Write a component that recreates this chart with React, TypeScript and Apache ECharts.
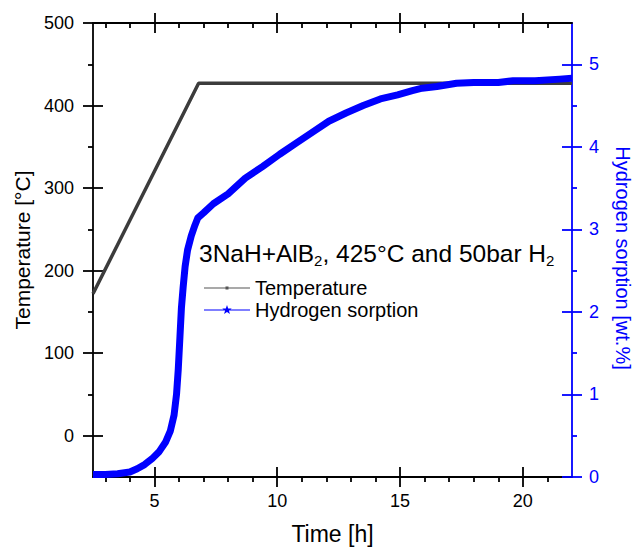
import React, { useEffect, useRef } from "react";
import * as echarts from "echarts";

// ---- data ----
const tempTime = [2.5, 6.8, 22];
const tempValue = [172, 427, 427];

const h2Time = [2.5, 3.0, 3.5, 4.0, 4.3, 4.6, 4.9, 5.2, 5.45, 5.65, 5.8, 5.9, 5.97, 6.04, 6.1, 6.17, 6.25, 6.35, 6.5, 6.65, 6.77, 7.0, 7.4, 8.0, 8.7, 9.4, 10.1, 10.8, 11.5, 12.1, 12.8, 13.5, 14.2, 14.9, 15.5, 15.9, 16.5, 17.3, 18.0, 19.0, 19.6, 20.5, 21.5, 22.0];
const h2Sorption = [0.03, 0.03, 0.04, 0.06, 0.1, 0.15, 0.22, 0.31, 0.42, 0.56, 0.75, 1.0, 1.3, 1.7, 2.05, 2.3, 2.55, 2.75, 2.92, 3.05, 3.14, 3.2, 3.31, 3.43, 3.62, 3.76, 3.91, 4.05, 4.19, 4.31, 4.41, 4.5, 4.58, 4.63, 4.68, 4.71, 4.73, 4.77, 4.78, 4.78, 4.8, 4.8, 4.82, 4.83];

const xMajor = [5, 10, 15, 20];
const xMinor = [3, 4, 6, 7, 8, 9, 11, 12, 13, 14, 16, 17, 18, 19, 21];
const yLeftMajor = [0, 100, 200, 300, 400, 500];
const yLeftMinor = [50, 150, 250, 350, 450];
const yRightMajor = [0, 1, 2, 3, 4, 5];
const yRightMinor = [0.5, 1.5, 2.5, 3.5, 4.5];

const FONT = '"Liberation Sans", Arial, Helvetica, sans-serif';
const BLUE = "#0000ff";
const BLACK = "#000000";

function makeAxis(base: any, ticks: number[], inside: boolean, len: number, color: string, showLine: boolean, label?: any) {
  return {
    type: "value",
    ...base,
    axisLine: { show: showLine, onZero: false, lineStyle: { color, width: 1.8 } },
    axisTick: { show: true, inside, length: len, customValues: ticks, lineStyle: { color, width: 1.8 } },
    axisLabel: label ? label : { show: false },
    splitLine: { show: false },
    minorTick: { show: false },
  };
}

const starIcon =
  "path://M0,0 M46,12 M0,5.4 L46,5.4 L46,6.6 L0,6.6 Z M23,1 L24.18,4.38 L27.76,4.45 L24.9,6.62 L25.94,10.05 L23,8 L20.06,10.05 L21.1,6.62 L18.24,4.45 L21.82,4.38 Z";
const dotIcon =
  "path://M0,0 M46,12 M0,5.4 L46,5.4 L46,6.6 L0,6.6 Z M21.5,4.5 L24.5,4.5 L24.5,7.5 L21.5,7.5 Z";

export default function App() {
  const ref = useRef<HTMLDivElement>(null);
  useEffect(() => {
    document.body.style.margin = "0";
    const chart = echarts.init(ref.current!, null, { renderer: "svg" });
    const xBase = { min: 2.5, max: 22 };
    const ylBase = { min: -50, max: 500 };
    const yrBase = { min: 0, max: 5.5 };
    const tickLabel = (customValues: number[], color: string, margin: number) => ({
      show: true,
      customValues,
      margin,
      color,
      fontSize: 18,
      fontFamily: FONT,
    });
    const option: any = {
      animation: false,
      backgroundColor: "#ffffff",
      grid: { left: 93, right: 63, top: 23, bottom: 70, containLabel: false, outerBoundsMode: "none" },
      xAxis: [
        {
          ...makeAxis({ ...xBase, position: "bottom" }, xMajor, false, 10, BLACK, true, tickLabel(xMajor, BLACK, 15)),
          name: "Time [h]",
          nameLocation: "middle",
          nameGap: 45,
          nameTextStyle: { fontSize: 23, fontFamily: FONT, color: BLACK },
        },
        makeAxis({ ...xBase, position: "bottom" }, xMajor, true, 10, BLACK, false),
        makeAxis({ ...xBase, position: "bottom" }, xMinor, false, 5, BLACK, false),
        makeAxis({ ...xBase, position: "top" }, xMajor, false, 10, BLACK, true),
        makeAxis({ ...xBase, position: "top" }, xMajor, true, 10, BLACK, false),
        makeAxis({ ...xBase, position: "top" }, xMinor, true, 5, BLACK, false),
      ],
      yAxis: [
        {
          ...makeAxis({ ...ylBase, position: "left" }, yLeftMajor, false, 10, BLACK, true, tickLabel(yLeftMajor, BLACK, 19)),
          name: "Temperature [°C]",
          nameLocation: "middle",
          nameGap: 59,
          nameTextStyle: { fontSize: 21, fontFamily: FONT, color: BLACK },
        },
        makeAxis({ ...ylBase, position: "left" }, yLeftMajor, true, 10, BLACK, false),
        makeAxis({ ...ylBase, position: "left" }, yLeftMinor, false, 5, BLACK, false),
        {
          ...makeAxis({ ...yrBase, position: "right" }, yRightMajor, false, 10, BLUE, true, tickLabel(yRightMajor, BLUE, 17)),
          name: "Hydrogen sorption [wt.%]",
          nameLocation: "middle",
          nameGap: 41,
          nameRotate: -90,
          nameTextStyle: { fontSize: 20, fontFamily: FONT, color: BLUE, padding: [0, 0, 0, 16] },
        },
        makeAxis({ ...yrBase, position: "right" }, yRightMajor, true, 10, BLUE, false),
        makeAxis({ ...yrBase, position: "right" }, yRightMinor, false, 5, BLUE, false),
      ],
      legend: {
        show: true,
        orient: "vertical",
        left: 199,
        top: 273,
        itemWidth: 46,
        itemHeight: 12,
        itemGap: 2,
        textStyle: { fontSize: 20, fontFamily: FONT, color: BLACK },
        data: [
          { name: "Temperature", icon: dotIcon, itemStyle: { color: "#555555", borderWidth: 0 } },
          { name: "Hydrogen sorption", icon: starIcon, itemStyle: { color: BLUE, borderWidth: 0 } },
        ],
      },
      graphic: [
        {
          type: "text",
          left: 199,
          top: 241,
          z: 100,
          style: {
            text: "{m|3NaH+AlB}{s|2}{m|, 425°C and 50bar H}{s|2}",
            rich: {
              m: { fontSize: 24.5, fontFamily: FONT, fill: BLACK, lineHeight: 28 },
              s: { fontSize: 15, fontFamily: FONT, fill: BLACK, verticalAlign: "bottom", lineHeight: 28 },
            },
          },
        },
      ],
      series: [
        {
          name: "Temperature",
          type: "line",
          xAxisIndex: 0,
          yAxisIndex: 0,
          data: tempTime.map((t, i) => [t, tempValue[i]]),
          showSymbol: false,
          symbol: "circle",
          color: "#3c3c3c",
          lineStyle: { color: "#3c3c3c", width: 3.5 },
          z: 2,
        },
        {
          name: "Hydrogen sorption",
          type: "line",
          xAxisIndex: 0,
          yAxisIndex: 3,
          data: h2Time.map((t, i) => [t, h2Sorption[i]]),
          showSymbol: false,
          color: BLUE,
          lineStyle: { color: BLUE, width: 7, join: "round", cap: "butt" },
          z: 3,
        },
      ],
    };
    chart.setOption(option);
    return () => chart.dispose();
  }, []);
  return (
    <div
      ref={ref}
      style={{ position: "fixed", left: 0, top: 0, width: 635, height: 547, background: "#fff" }}
    />
  );
}
